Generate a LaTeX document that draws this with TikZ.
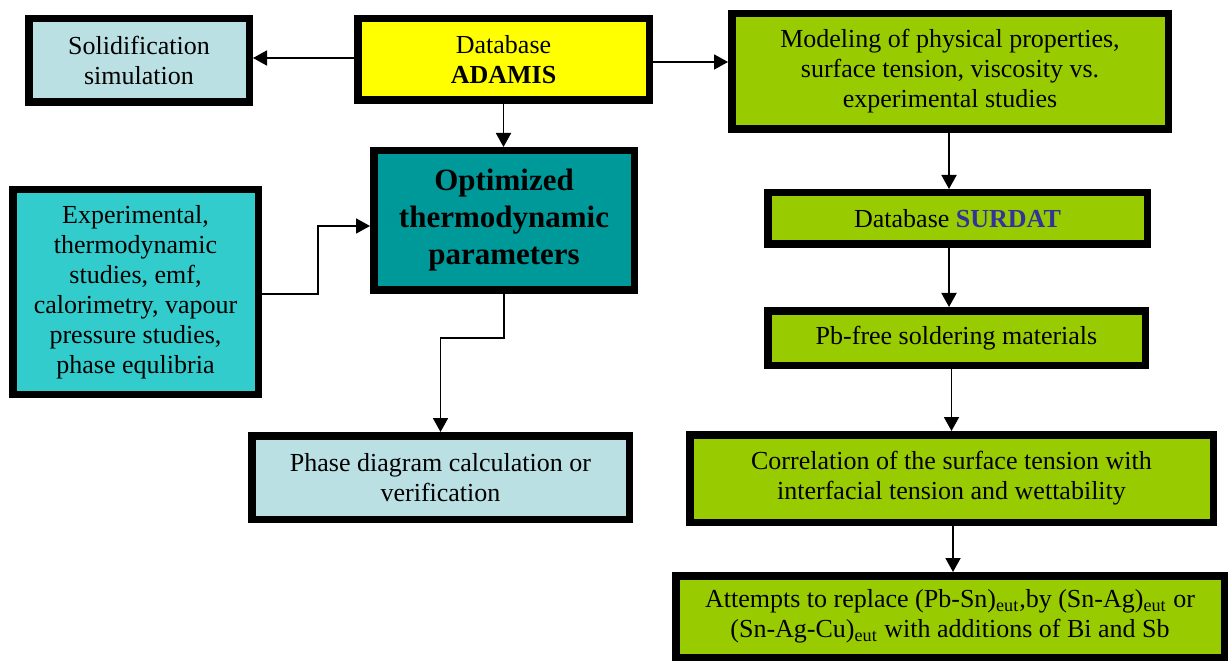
\documentclass[tikz,border=0pt]{standalone}
\usepackage{fontspec}
\setmainfont{Liberation Serif}
\usetikzlibrary{
		arrows.meta,
		positioning
	}
\definecolor{paleblue}{RGB}{187,224,227}
\definecolor{dbyellow}{RGB}{255,255,0}
\definecolor{limegreen}{RGB}{153,204,0}
\definecolor{darkteal}{RGB}{0,153,153}
\definecolor{lightteal}{RGB}{51,204,204}
\definecolor{surdatblue}{RGB}{51,51,153}
\tikzset{
		>={Triangle[length=7pt,width=7.5pt]},
		box/.style={draw=black, line width=3.75pt, align=center, inner sep=0pt,
			font=\fontsize{13}{15}\selectfont},
		arr/.style={->, line width=0.9pt}
	}

\begin{document}
\begin{tikzpicture}[x=0.5pt, y=-0.5pt]
            \useasboundingbox (0,0) rectangle (1229,662);

            \node[box, fill=paleblue, minimum width=110.25pt, minimum height=41.75pt] (sol) at (139,60.5) {Solidification\\simulation};
            \node[box, fill=dbyellow, minimum width=145.75pt, minimum height=40.75pt] (adamis) at (503.5,59.5) {Database\\\textbf{ADAMIS}};
            \node[box, fill=limegreen, minimum width=218.25pt, minimum height=57.75pt] (model) at (950,71.5) {Modeling of physical properties,\\surface tension, viscosity vs.\\experimental studies};
            \node[box, fill=darkteal, minimum width=130.25pt, minimum height=69.75pt,
            	font=\fontsize{15.5}{18.5}\selectfont\bfseries] (opt) at (504,220.5) {Optimized\\thermodynamic\\parameters};
            \node[box, fill=lightteal, minimum width=122.75pt, minimum height=102.25pt] (exp) at (135.5,292) {Experimental,\\thermodynamic\\studies, emf,\\calorimetry, vapour\\pressure studies,\\phase equlibria};
            \node[box, fill=limegreen, minimum width=189.75pt, minimum height=25.75pt] (surdat) at (957.5,218.5) {Database \textcolor{surdatblue}{\textbf{SURDAT}}};
            \node[box, fill=limegreen, minimum width=188.75pt, minimum height=27.25pt] (pbfree) at (956.5,338) {Pb-free soldering materials};
            \node[box, fill=paleblue, minimum width=188.75pt, minimum height=41.75pt] (phase) at (440.5,477.5) {Phase diagram calculation or\\verification};
            \node[box, fill=limegreen, minimum width=261.75pt, minimum height=43.75pt] (corr) at (951.5,478.5) {Correlation of the surface tension with\\interfacial tension and wettability};
            \node[box, fill=limegreen, minimum width=274.25pt, minimum height=40.75pt] (att) at (950,616.5) {Attempts to replace (Pb-Sn)\textsubscript{eut},by (Sn-Ag)\textsubscript{eut} or\\(Sn-Ag-Cu)\textsubscript{eut} with additions of Bi and Sb};

            % connectors
            \draw[arr] ([yshift=0.75pt]adamis.west) -- ([yshift=0.75pt]adamis.west -| sol.east);
            \draw[arr] ([yshift=-1.25pt]adamis.east) -- ([yshift=-1.25pt]adamis.east -| model.west);
            \draw[arr] (adamis.south) -- (adamis.south |- opt.north);
            \draw[arr] ([yshift=-1pt]exp.east) -- ++(56,0) |- ([yshift=-2.75pt]opt.west);
            \draw[arr] (opt.south) -- ++(0,44) -| (phase.north);
            \draw[arr] ([xshift=-0.5pt]model.south) -- ([xshift=-0.5pt]model.south |- surdat.north);
            \draw[arr] ([xshift=-0.5pt]model.south |- surdat.south) -- ([xshift=-0.5pt]model.south |- pbfree.north);
            \draw[arr] (corr.north |- pbfree.south) -- (corr.north);
            \draw[arr] ([xshift=1.5pt]att.north |- corr.south) -- ([xshift=1.5pt]att.north);
        \end{tikzpicture}
\end{document}
